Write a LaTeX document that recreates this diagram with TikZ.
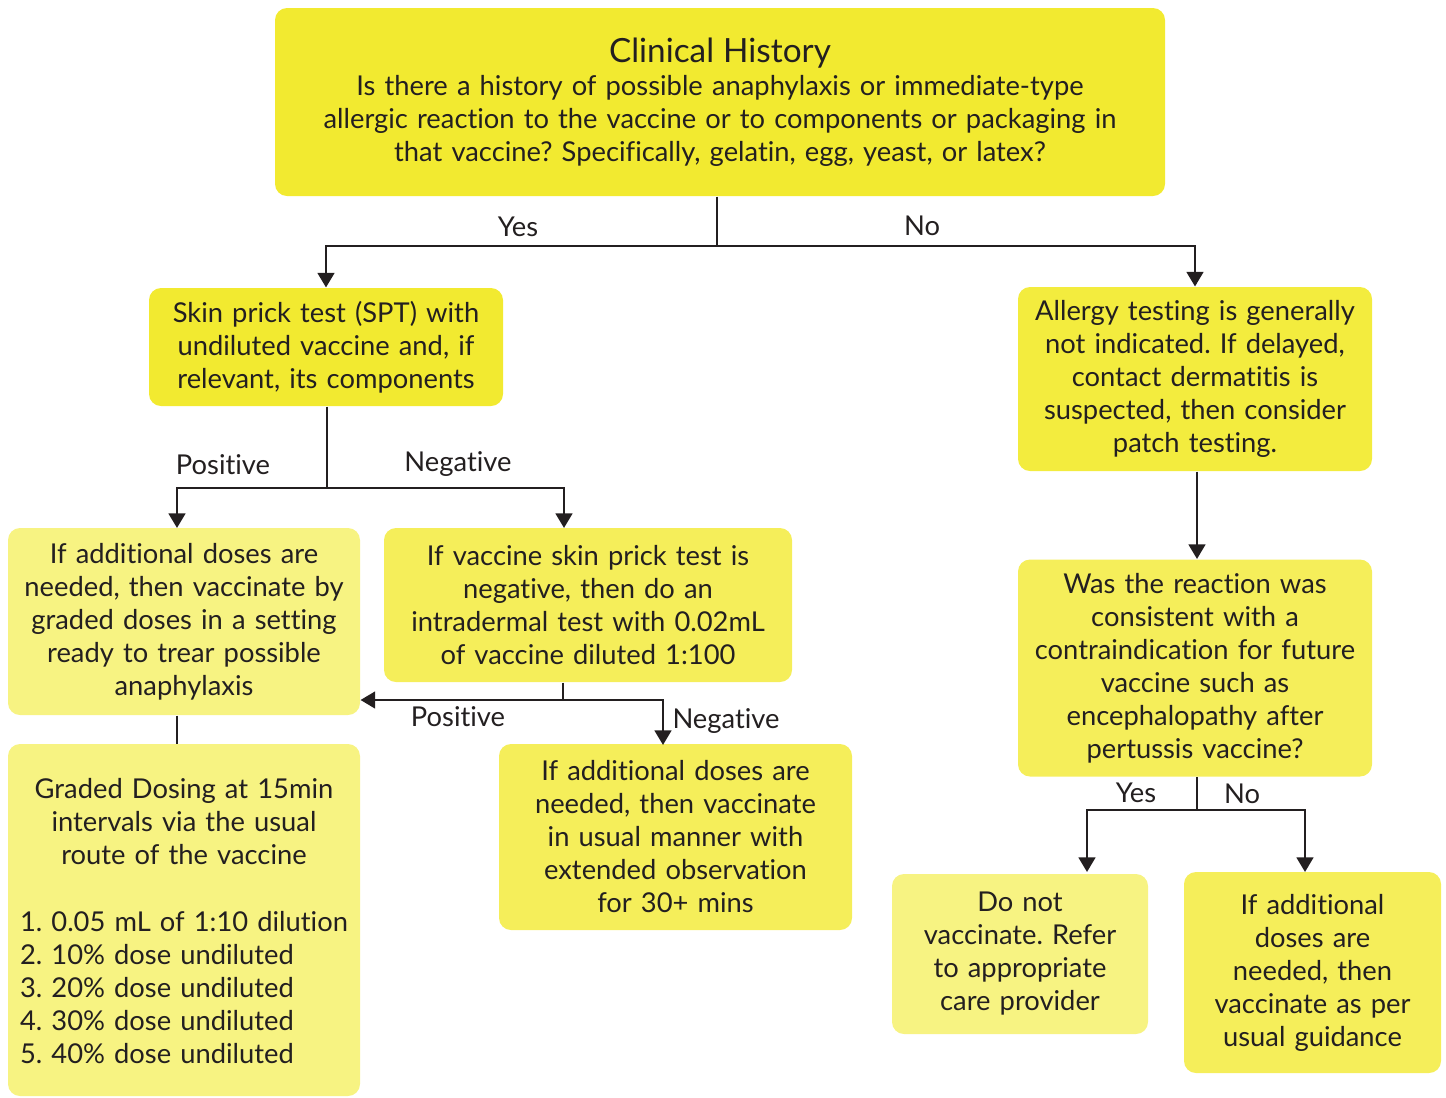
\documentclass[tikz,border=0pt]{standalone}
\usepackage{fontspec}
\setmainfont{Lato}[Ligatures=NoCommon]
\usetikzlibrary{arrows.meta}

\definecolor{hiyellow}{RGB}{242,234,48}
\definecolor{tstyellow}{RGB}{243,236,62}
\definecolor{midyellow}{RGB}{245,238,90}
\definecolor{loyellow}{RGB}{247,243,130}
\definecolor{inkgrey}{RGB}{35,31,32}

\tikzset{every picture/.style={line width=0.75pt}}
\tikzset{
  flowbox/.style 2 args={rounded corners=9pt, draw=none, align=center,
    minimum width=#1*0.75pt, minimum height=#2*0.75pt,
    text width=#1*0.75pt-16pt, inner sep=0pt, text=inkgrey,
    font=\fontsize{20.5}{24.75}\selectfont},
  flowline/.style={draw=inkgrey, line width=2pt},
  flowarrow/.style={flowline, -{Triangle[length=11pt,width=12.5pt]}},
  branchlabel/.style={inner sep=0.75pt, text=inkgrey, font=\fontsize{20.5}{24}\selectfont}
}

\begin{document}
\frenchspacing
\begin{tikzpicture}[x=0.75pt,y=0.75pt,yscale=-1,xscale=1]
	\useasboundingbox (0,0) rectangle (1446,1097);
	
	% Boxes
	\node [flowbox={890}{188}, fill=hiyellow] (hist) at (720,102) {{\fontsize{25}{30}\selectfont Clinical History}\\[0pt]
		Is there a history of possible anaphylaxis or immediate-type\\
		allergic reaction to the vaccine or to components or packaging in\\
		that vaccine? Specifically, gelatin, egg, yeast, or latex?};
	\node [flowbox={354}{118}, fill=hiyellow] (spt) at (326,347) {Skin prick test (SPT) with\\ undiluted vaccine and, if\\ relevant, its components};
	\node [flowbox={354}{184}, fill=tstyellow] (patch) at (1195,379) {Allergy testing is generally\\ not indicated. If delayed,\\ contact dermatitis is\\ suspected, then consider\\ patch testing.};
	\node [flowbox={352}{187}, fill=loyellow] (graded) at (184,621.5) {If additional doses are\\ needed, then vaccinate by\\ graded doses in a setting\\ ready to trear possible\\ anaphylaxis};
	\node [flowbox={408}{154}, fill=midyellow] (idt) at (588,605) {If vaccine skin prick test is\\ negative, then do an\\ intradermal test with 0.02mL\\ of vaccine diluted 1:100};
	\node [flowbox={352}{352}, fill=loyellow] (dosing) at (184,920) {\rule{0pt}{24pt}Graded Dosing at 15min\\ intervals via the usual\\ route of the vaccine\\[32pt]
		\begin{tabular}{@{}l@{}}1. 0.05 mL of 1:10 dilution\\ 2. 10\% dose undiluted\\ 3. 20\% dose undiluted\\ 4. 30\% dose undiluted\\ 5. 40\% dose undiluted\end{tabular}};
	\node [flowbox={353}{186}, fill=midyellow] (observe) at (675.5,837) {If additional doses are\\ needed, then vaccinate\\ in usual manner with\\ extended observation\\ for 30+ mins};
	\node [flowbox={354}{217}, fill=midyellow] (contra) at (1195,668) {Was the reaction was\\ consistent with a\\ contraindication for future\\ vaccine such as\\ encephalopathy after\\ pertussis vaccine?};
	\node [flowbox={256}{160}, fill=loyellow] (refer) at (1020,954) {Do not\\ vaccinate. Refer\\ to appropriate\\ care provider};
	\node [flowbox={257}{201}, fill=midyellow] (usual) at (1312.5,972.5) {If additional\\ doses are\\ needed, then\\ vaccinate as per\\ usual guidance};
	
	% Junctions
	\coordinate (histjn) at (717,246);
	\coordinate (sptjn) at (327,488);
	\coordinate (idtjn) at (563,700);
	\coordinate (contrajn) at (1197,810);
	
	% Connectors
	\draw [flowline] (hist.south -| histjn) -- (histjn);
	\draw [flowarrow] (histjn) -| (spt.north);
	\draw [flowarrow] (histjn) -| (patch.north);
	\draw [flowline] (spt.south -| sptjn) -- (sptjn);
	\draw [flowarrow] (sptjn) -| (177,528);
	\draw [flowarrow] (sptjn) -| (564,528);
	\draw [flowline] (idt.south -| idtjn) -- (idtjn);
	\draw [flowarrow] (idtjn) -- (graded.east |- idtjn);
	\draw [flowarrow] (idtjn) -| (663,745);
	\draw [flowline] (graded.south -| 177,0) -- (dosing.north -| 177,0);
	\draw [flowarrow] (patch.south -| 1197,0) -- (contra.north -| 1197,0);
	\draw [flowline] (contra.south -| contrajn) -- (contrajn);
	\draw [flowarrow] (contrajn) -| (1087,872);
	\draw [flowarrow] (contrajn) -| (1305,872);
	
	% Branch labels
	\node [branchlabel] (yeslbl) at (518,227) {Yes};
	\node [branchlabel] (nolbl) at (922,226) {No};
	\node [branchlabel] (sptpos) at (223,465) {Positive};
	\node [branchlabel] (sptneg) at (458,464) {Negative};
	\node [branchlabel] (idtpos) at (458,717) {Positive};
	\node [branchlabel, anchor=west] (idtneg) at (671,721) {Negative};
	\node [branchlabel] (contrayes) at (1136,793) {Yes};
	\node [branchlabel] (contrano) at (1242,794) {No};
	
\end{tikzpicture}
\end{document}
